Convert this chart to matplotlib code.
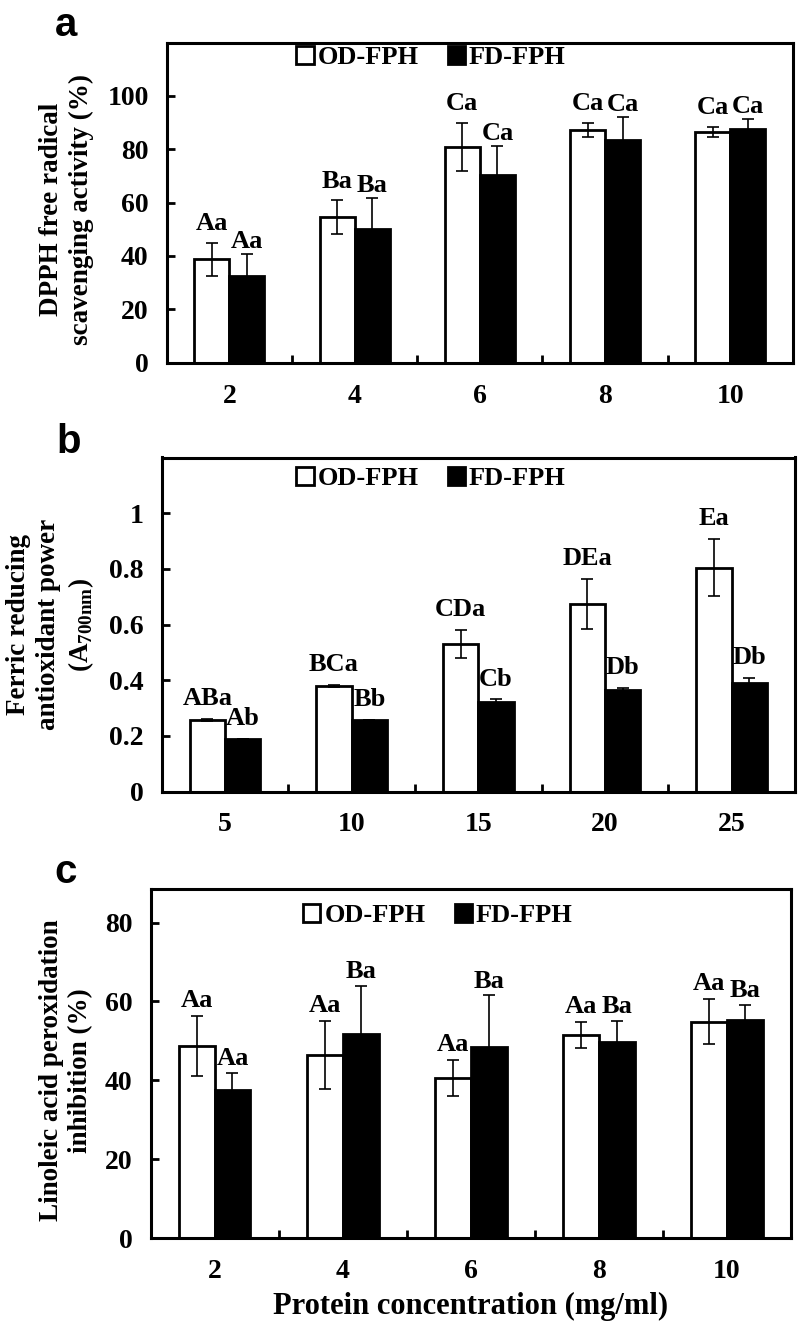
import numpy as np
import matplotlib.pyplot as plt
from matplotlib.patches import Patch

plt.rcParams['font.family'] = ['Liberation Serif', 'DejaVu Serif']
plt.rcParams['font.weight'] = 'bold'
plt.rcParams['axes.labelweight'] = 'bold'
plt.rcParams['mathtext.fontset'] = 'custom'
plt.rcParams['mathtext.rm'] = 'Liberation Serif:bold'
plt.rcParams['mathtext.bf'] = 'Liberation Serif:bold'

# a: DPPH scavenging (%)
conc_a = ['2', '4', '6', '8', '10']
od_a = [38.8, 54.6, 80.8, 87.2, 86.6]
od_a_err = [6.2, 6.2, 9.0, 2.8, 1.9]
fd_a = [32.6, 50.2, 70.3, 83.5, 87.7]
fd_a_err = [8.1, 11.6, 11.0, 8.5, 3.5]
od_a_lab = ['Aa', 'Ba', 'Ca', 'Ca', 'Ca']
fd_a_lab = ['Aa', 'Ba', 'Ca', 'Ca', 'Ca']

# b: ferric reducing power (A700nm)
conc_b = ['5', '10', '15', '20', '25']
od_b = [0.257, 0.380, 0.530, 0.673, 0.804]
od_b_err = [0.003, 0.003, 0.050, 0.090, 0.103]
fd_b = [0.190, 0.257, 0.323, 0.364, 0.389]
fd_b_err = [0.0, 0.0, 0.008, 0.008, 0.019]
od_b_lab = ['ABa', 'BCa', 'CDa', 'DEa', 'Ea']
fd_b_lab = ['Ab', 'Bb', 'Cb', 'Db', 'Db']

# c: linoleic acid peroxidation inhibition (%)
conc_c = ['2', '4', '6', '8', '10']
od_c = [48.8, 46.5, 40.6, 51.5, 54.9]
od_c_err = [7.6, 8.6, 4.6, 3.4, 5.8]
fd_c = [37.5, 51.7, 48.4, 49.7, 55.2]
fd_c_err = [4.4, 12.3, 13.2, 5.4, 4.0]
od_c_lab = ['Aa', 'Aa', 'Aa', 'Aa', 'Aa']
fd_c_lab = ['Aa', 'Ba', 'Ba', 'Ba', 'Ba']

W, H = 799, 1325
fig = plt.figure(figsize=(W / 100, H / 100), dpi=100)

def box(l, r, t, b):
    return [l / W, 1 - b / H, (r - l) / W, (b - t) / H]

def panel(ax, cats, od, od_err, fd, fd_err, od_lab, fd_lab, ymax, yt, ytl,
          ylabel, ylab_pos, leg_pos, off_od, off_fd):
    x = np.arange(1, len(cats) + 1)
    w = 0.28
    ax.bar(x - w / 2, od, w, color='white', edgecolor='black', linewidth=2, zorder=2)
    ax.bar(x + w / 2, fd, w, color='black', edgecolor='black', linewidth=2, zorder=2)
    ax.errorbar(x - w / 2, od, yerr=od_err, fmt='none', ecolor='black',
                elinewidth=1.2, capsize=4, capthick=1.2, zorder=3)
    ax.errorbar(x + w / 2, fd, yerr=fd_err, fmt='none', ecolor='black',
                elinewidth=1.2, capsize=4, capthick=1.2, zorder=3)
    for xi, v, e, s in zip(x - w / 2, od, od_err, od_lab):
        ax.annotate(s, (xi, v + e), xytext=(0, off_od), textcoords='offset points',
                    ha='center', va='center', fontsize=19)
    for xi, v, e, s in zip(x + w / 2, fd, fd_err, fd_lab):
        ax.annotate(s, (xi, v + e), xytext=(0, off_fd), textcoords='offset points',
                    ha='center', va='center', fontsize=19)
    ax.set_xlim(0.5, len(cats) + 0.5)
    ax.set_ylim(0, ymax)
    ax.set_xticks(x)
    ax.set_xticklabels(cats)
    ax.set_xticks(x[:-1] + 0.5, minor=True)
    ax.set_yticks(yt)
    ax.set_yticklabels(ytl)
    ax.tick_params(axis='x', which='major', length=0, pad=15, labelsize=20)
    ax.tick_params(axis='x', which='minor', direction='in', length=6, width=2)
    ax.tick_params(axis='y', direction='in', length=6, width=2, pad=13, labelsize=20)
    for sp in ax.spines.values():
        sp.set_linewidth(2.2)
    ax.set_ylabel(ylabel, fontsize=19.5, va='center', linespacing=1.25)
    ax.yaxis.set_label_coords(*ylab_pos)
    handles = [Patch(facecolor='white', edgecolor='black', linewidth=2, label='OD-FPH'),
               Patch(facecolor='black', edgecolor='black', linewidth=2, label='FD-FPH')]
    ax.legend(handles=handles, loc='upper left', bbox_to_anchor=leg_pos, ncol=2,
              frameon=False, fontsize=19, borderpad=0, handlelength=0.65,
              handleheight=0.65, handletextpad=0.15, columnspacing=1.1)

ax1 = fig.add_axes(box(166.7, 793, 42.5, 362.7))
panel(ax1, conc_a, od_a, od_a_err, fd_a, fd_a_err, od_a_lab, fd_a_lab, 120,
      [0, 20, 40, 60, 80, 100], ['0', '20', '40', '60', '80', '100'],
      'DPPH free radical\nscavenging activity (%)', (-0.16, 0.48),
      (0.186, 1.03), 14, 9)

ax2 = fig.add_axes(box(161.7, 795, 457.5, 791.5))
panel(ax2, conc_b, od_b, od_b_err, fd_b, fd_b_err, od_b_lab, fd_b_lab, 1.2,
      [0, 0.2, 0.4, 0.6, 0.8, 1.0], ['0', '0.2', '0.4', '0.6', '0.8', '1'],
      'Ferric reducing\nantioxidant power\n(A$_{\\mathrm{700nm}}$)', (-0.175, 0.5),
      (0.192, 1.01), 14.5, 14.5)

ax3 = fig.add_axes(box(150.5, 791, 889, 1238))
panel(ax3, conc_c, od_c, od_c_err, fd_c, fd_c_err, od_c_lab, fd_c_lab, 88.5,
      [0, 20, 40, 60, 80], ['0', '20', '40', '60', '80'],
      'Linoleic acid peroxidation\ninhibition (%)', (-0.132, 0.48),
      (0.218, 0.995), 11, 10)
ax3.set_xlabel('Protein concentration (mg/ml)', fontsize=22, labelpad=6)

for s, xp, yp in [('a', 66, 36), ('b', 69, 453), ('c', 66, 883)]:
    fig.text(xp / W, 1 - yp / H, s, fontsize=29, fontweight='bold',
             family=['Liberation Sans', 'DejaVu Sans'], ha='center', va='baseline')

fig.savefig('out.png', dpi=100)
